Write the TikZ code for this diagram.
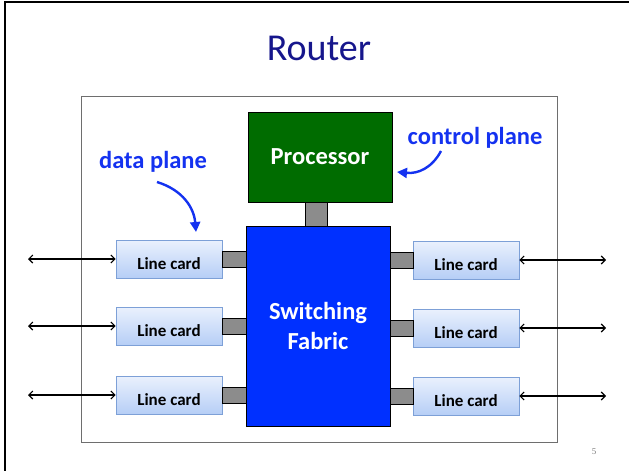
\documentclass[tikz,border=0pt]{standalone}
\usepackage{fontspec}
\setmainfont{Carlito}
\newfontfamily\pagefont{Liberation Serif}
\usepackage{xcolor}
\usetikzlibrary{arrows.meta,positioning,shadows}
\definecolor{titleNavy}{RGB}{22,22,140}
\definecolor{procGreen}{RGB}{0,108,0}
\definecolor{fabricBlue}{RGB}{0,48,255}
\definecolor{labelBlue}{RGB}{20,50,240}
\definecolor{cardTop}{RGB}{234,241,253}
\definecolor{cardBottom}{RGB}{182,206,246}
\definecolor{cardEdge}{RGB}{125,160,215}
\definecolor{portGray}{RGB}{140,140,140}
\definecolor{frameGray}{RGB}{110,110,110}

\tikzset{
  linecard/.style={draw=cardEdge, line width=0.8pt, top color=cardTop, bottom color=cardBottom,
    minimum width=106pt, minimum height=38pt, inner sep=0pt,
    font=\fontsize{17}{20}\selectfont\bfseries,
    drop shadow={opacity=0.25, shadow xshift=1.2pt, shadow yshift=-1.2pt}},
  port/.style={draw=black, line width=0.6pt, fill=portGray, inner sep=0pt},
  io/.style={{Straight Barb[length=4pt,width=8pt]}-{Straight Barb[length=4pt,width=8pt]}, line width=1.1pt},
  planelabel/.style={text=labelBlue, font=\fontsize{24.5}{28}\selectfont\bfseries},
  planearrow/.style={draw=labelBlue, line width=2.4pt, -{Triangle[length=10pt,width=10pt]}}
}
\newcommand{\cardtext}{\rule{0pt}{21pt}Line card}

\begin{document}
\begin{tikzpicture}[x=1pt,y=-1pt]
    \useasboundingbox (0,0) rectangle (629,471);
    % slide frame
    \draw[black, line width=2pt] (5,471) -- (5,1.5) -- (629,1.5);

    % title
    \node[text=titleNavy, font=\fontsize{38}{44}\selectfont] (title) at (319,48) {Router};

    % router chassis
    \draw[frameGray, line width=0.9pt] (81,96) rectangle (557,442);

    % processor and switching fabric
    \node[draw=black, line width=0.8pt, fill=procGreen, minimum width=144pt, minimum height=90pt,
      text=white, font=\fontsize{24.5}{28}\selectfont\bfseries] (proc) at (320,157) {Processor};
    \node[draw=black, line width=0.8pt, fill=fabricBlue, minimum width=144pt, minimum height=200pt,
      text=white, font=\fontsize{24.5}{30}\selectfont\bfseries, align=center] (fabric) at (318,326)
      {Switching\\Fabric};
    \node[port, minimum width=22pt, minimum height=24pt] (bus) at (316,214) {};

    % line cards, ports and external links
    \foreach \i/\yl/\yr in {1/259/260, 2/326/328, 3/395/396} {
      \node[linecard] (left\i) at (169,\yl) {\cardtext\hspace{8pt}};
      \node[linecard] (right\i) at (466,\yr) {\cardtext};
      \node[port, minimum width=24pt, minimum height=16pt] (lport\i) at (234,\yl) {};
      \node[port, minimum width=23pt, minimum height=16pt] (rport\i) at (401.5,\yr) {};
      \coordinate (lend\i) at (28,\yl);
      \coordinate (rend\i) at (606,\yr);
      \draw[io] (lend\i) -- (left\i.west);
      \draw[io] (right\i.east) -- (rend\i);
    }

    % plane labels
    \node[planelabel] (dataLbl) at (153,162) {data plane};
    \node[planelabel] (ctrlLbl) at (475,138) {control plane};
    \coordinate (dataTip) at (196,232);
    \coordinate (ctrlTip) at (397,172);
    \draw[planearrow] (157,182) .. controls (183,190) and (194,208) .. (dataTip);
    \draw[planearrow] (441,151) .. controls (432,168) and (418,174) .. (ctrlTip);

    % page number
    \node[text=gray, font=\pagefont\fontsize{9}{10}\selectfont] (pageNo) at (594,452) {5};
\end{tikzpicture}
\end{document}
